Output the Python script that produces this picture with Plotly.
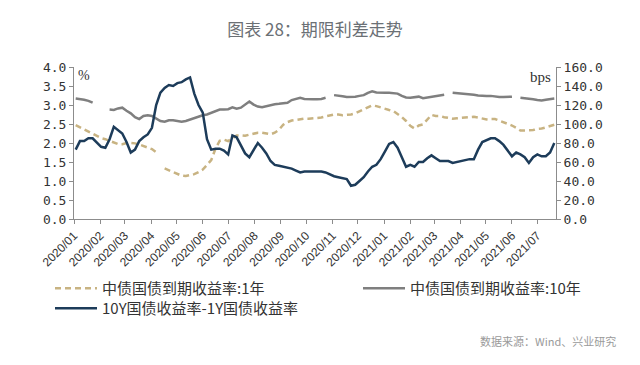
import pandas as pd
import plotly.graph_objects as go

# dates (5-day sampling of the daily series)
dates = pd.date_range("2020-01-03", periods=114, freq="5D")

# 中债国债到期收益率:1年 (%)
y1 = [2.47, 2.41, 2.35, 2.29, 2.24, 2.18, 2.13, 2.10, 2.05, 2.00,
      1.97, 1.97, 2.00, 2.00, 1.99, 1.96, 1.92, 1.87, 1.84, 1.76,
      None, 1.33, 1.28, 1.22, 1.17, 1.14, 1.13, 1.15, 1.18, 1.23,
      1.30, 1.42, 1.55, 1.85, 2.06, 2.09, 2.05, 2.12, 2.20, 2.20,
      2.19, 2.22, 2.25, 2.27, 2.27, 2.25, 2.23, 2.27, 2.35, 2.48,
      2.55, 2.59, 2.61, 2.63, 2.64, 2.64, 2.65, 2.65, 2.67, 2.70,
      2.73, 2.75, 2.75, 2.73, 2.74, 2.75, 2.78, 2.83, 2.88, 2.94,
      2.99, 2.97, 2.93, 2.90, 2.87, 2.84, 2.77, 2.68, 2.58, 2.45,
      2.38, 2.46, 2.49, 2.62, 2.74, 2.71, 2.71, 2.68, 2.66, 2.64,
      2.65, 2.66, 2.67, 2.68, 2.69, 2.67, 2.65, 2.62, 2.63, 2.63,
      2.59, 2.55, 2.51, 2.46, 2.40, 2.33, 2.33, 2.33, 2.34, 2.37,
      2.38, 2.41, 2.44, 2.48]

# 中债国债到期收益率:10年 (%)
y10 = [3.17, 3.16, 3.14, 3.11, 3.06, None, None, None, 2.88, 2.87,
       2.91, 2.93, 2.85, 2.78, 2.68, 2.63, 2.71, 2.73, 2.71, 2.64,
       2.58, 2.56, 2.60, 2.60, 2.58, 2.56, 2.58, 2.62, 2.67, 2.71,
       2.73, 2.75, 2.80, 2.84, 2.88, 2.88, 2.89, 2.94, 2.90, 2.93,
       3.02, 3.09, 3.01, 2.96, 2.94, 2.97, 3.00, 3.02, 3.03, 3.04,
       3.06, 3.13, 3.17, 3.19, 3.16, 3.15, 3.15, 3.15, 3.16, 3.19,
       None, 3.26, 3.25, 3.23, 3.21, 3.21, 3.22, 3.24, 3.26, 3.32,
       3.36, 3.33, 3.32, 3.32, 3.32, 3.31, 3.30, 3.24, 3.20, 3.19,
       3.20, 3.22, 3.18, 3.20, 3.21, 3.23, 3.26, 3.27, None, 3.32,
       3.31, 3.31, 3.30, 3.28, 3.27, 3.25, 3.24, 3.24, 3.24, 3.22,
       3.21, 3.21, 3.22, 3.22, None, 3.19, 3.18, 3.17, 3.15, 3.13,
       3.12, 3.14, 3.16, 3.17]

# 10Y国债收益率-1Y国债收益率 (bps)
spread = [73, 82, 82, 85, 85, 80, 76, 75, 84, 97,
          93, 90, 81, 70, 73, 82, 86, 89, 96, 120,
          133, 138, 141, 140, 143, 144, 147, 149, 132, 120,
          112, 84, 73, 74, 74, 72, 68, 88, 86, 77,
          69, 65, 72, 80, 75, 69, 61, 57, 56, 55,
          54, 53, 51, 49, 50, 50, 50, 50, 50, 49,
          47, 45, 44, 43, 42, 35, 36, 40, 44, 50,
          55, 57, 63, 71, 79, 81, 75, 65, 55, 57,
          55, 60, 60, 64, 67, 64, 61, 61, 61, 59,
          60, 61, 62, 63, 63, 73, 81, 83, 85, 85,
          82, 78, 72, 66, 70, 68, 65, 59, 65, 68,
          66, 66, 70, 80]

names = ["中债国债到期收益率:1年", "中债国债到期收益率:10年", "10Y国债收益率-1Y国债收益率"]
colors = ["#c8b382", "#7f7f7f", "#1d3c5a"]

W, H = 640, 365
L, R, T, B = 74, 84, 67, 146
pw, ph = W - L - R, H - T - B


def px_x(x):
    return (x - L) / pw


def px_y(y):
    return (H - B - y) / ph


fig = go.Figure()
fig.add_trace(go.Scatter(x=dates, y=y1, name=names[0], mode="lines",
                         line=dict(color=colors[0], width=2.5, dash="6px,4px"),
                         legend="legend"))
fig.add_trace(go.Scatter(x=dates, y=y10, name=names[1], mode="lines",
                         line=dict(color=colors[1], width=2.5),
                         legend="legend2"))
fig.add_trace(go.Scatter(x=dates, y=spread, name=names[2], mode="lines",
                         line=dict(color=colors[2], width=2.5),
                         yaxis="y2", legend="legend3"))

axis_font = dict(family="DejaVu Sans Mono", size=13, color="#333333")
leg_font = dict(family="Noto Sans CJK SC", size=15, color="#333333")
leg_common = dict(orientation="h", xanchor="left", yanchor="top", itemwidth=42,
                  font=leg_font, bgcolor="rgba(0,0,0,0)")

fig.update_layout(
    width=W, height=H,
    margin=dict(l=L, r=R, t=T, b=B),
    paper_bgcolor="white", plot_bgcolor="white",
    showlegend=True,
    xaxis=dict(type="date", range=["2020-01-01", "2021-07-23"],
               tick0="2020-01-01", dtick="M1", tickformat="%Y/%m",
               tickangle=-45, ticks="outside", ticklen=4, tickcolor="#8c8c8c",
               showline=True, linecolor="#8c8c8c", linewidth=1,
               showgrid=False, zeroline=False,
               tickfont=dict(family="Liberation Sans, Arial", size=12, color="#333333")),
    yaxis=dict(range=[0, 4], dtick=0.5, tickformat=".1f",
               ticks="outside", ticklen=4, tickcolor="#8c8c8c",
               showline=True, linecolor="#8c8c8c", linewidth=1,
               showgrid=False, zeroline=False, tickfont=axis_font),
    yaxis2=dict(range=[0, 160], dtick=20, tickformat=".1f", overlaying="y", side="right",
                ticks="outside", ticklen=4, tickcolor="#8c8c8c",
                showline=True, linecolor="#8c8c8c", linewidth=1,
                showgrid=False, zeroline=False, tickfont=axis_font),
    legend=dict(x=px_x(50), y=px_y(272), **leg_common),
    legend2=dict(x=px_x(358), y=px_y(272), **leg_common),
    legend3=dict(x=px_x(50), y=px_y(292), **leg_common),
    title=dict(text="图表 28：期限利差走势", x=0.5, xref="paper", xanchor="center",
               y=1 - 30 / H, yref="container", yanchor="middle",
               font=dict(family="Noto Sans CJK SC", size=17, color="#6b7075")),
    annotations=[
        dict(text="%", x=px_x(84), y=px_y(75), xref="paper", yref="paper",
             xanchor="center", yanchor="middle", showarrow=False,
             font=dict(family="Liberation Serif", size=14, color="#333333")),
        dict(text="bps", x=px_x(540), y=px_y(77), xref="paper", yref="paper",
             xanchor="center", yanchor="middle", showarrow=False,
             font=dict(family="Liberation Serif", size=15, color="#333333")),
        dict(text="数据来源：Wind、兴业研究", x=px_x(618), y=px_y(341), xref="paper", yref="paper",
             xanchor="right", yanchor="middle", showarrow=False,
             font=dict(family="Noto Sans CJK SC", size=11, color="#9a9a9a")),
    ],
)

fig.write_html("out.html", config={"displayModeBar": False},
               post_script="document.body.style.margin='0px';")
